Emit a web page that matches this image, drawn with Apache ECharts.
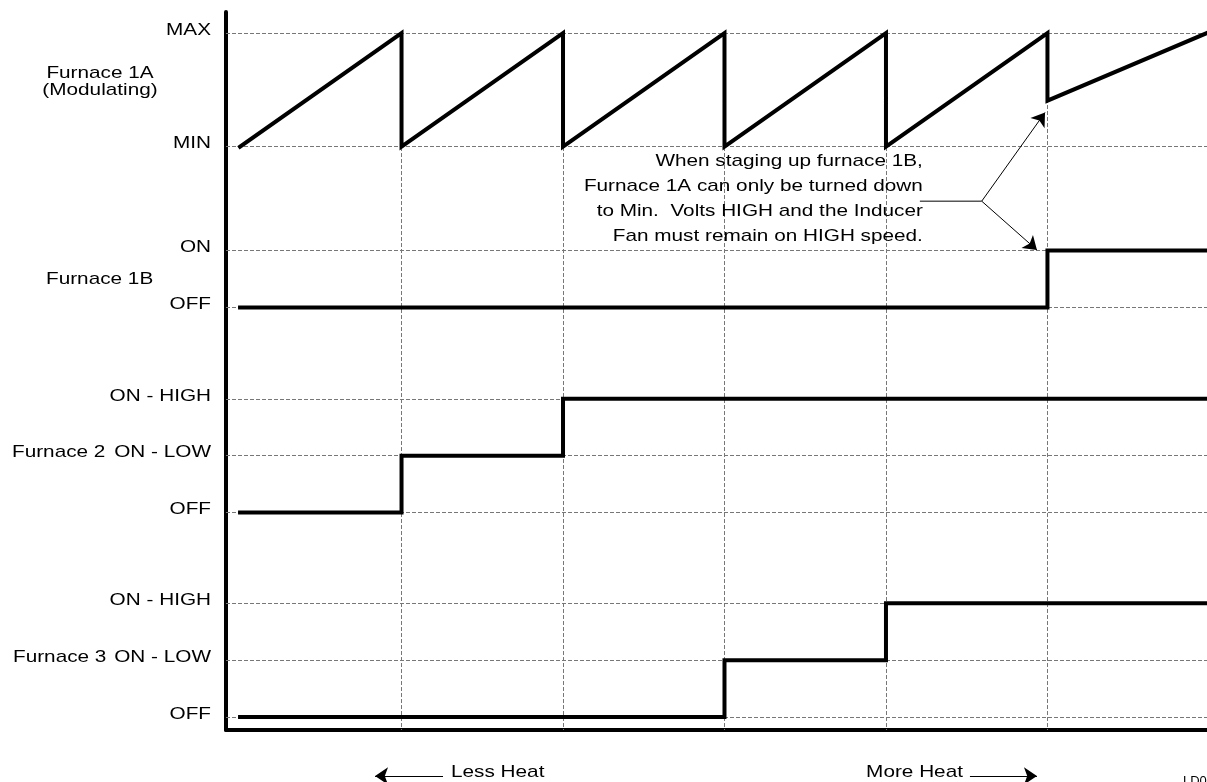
<!DOCTYPE html>
<html>
<head>
<meta charset="utf-8">
<style>
  html, body { margin: 0; padding: 0; background: #fff; }
  #main { width: 1207px; height: 782px; }
</style>
<script src="https://cdn.jsdelivr.net/npm/echarts@6/dist/echarts.min.js"></script>
</head>
<body>
<div id="main"></div>
<script>
// 各炉子的状态电平 (y 轴数值)
var levelValues = [12.27, 10.27, 8.44, 7.44, 5.83, 4.83, 3.83, 2.23, 1.23, 0.23];
var levelNames = ['MAX', 'MIN', 'ON', 'OFF', 'ON - HIGH', 'ON - LOW', 'OFF', 'ON - HIGH', 'ON - LOW', 'OFF'];
var furnaceNames = ['Furnace 1A\n(Modulating)', 'Furnace 1B', 'Furnace 2', 'Furnace 3'];
var stageX = [1, 2, 3, 4, 5];

// 时序曲线
var furnace1A = [[0, 10.27], [1, 12.27], [1, 10.27], [2, 12.27], [2, 10.27], [3, 12.27], [3, 10.27],
                 [4, 12.27], [4, 10.27], [5, 12.27], [5, 11.08], [5.988, 12.27]];
var furnace1B = [[0, 7.44], [5, 7.44], [5, 8.44], [5.988, 8.44]];
var furnace2 = [[0, 3.83], [1, 3.83], [1, 4.83], [2, 4.83], [2, 5.83], [5.988, 5.83]];
var furnace3 = [[0, 0.23], [3, 0.23], [3, 1.23], [4, 1.23], [4, 2.23], [5.988, 2.23]];

// 说明文字
var noteText = 'When staging up furnace 1B,\nFurnace 1A can only be turned down\nto Min.  Volts HIGH and the Inducer\nFan must remain on HIGH speed.';
var calloutFrom = [4.21, 9.31];
var calloutBranch = [4.593, 9.31];
var calloutTips = [[4.985, 10.87], [4.935, 8.45]];
var lessHeat = { text: 'Less Heat', from: [1.257, -0.81], to: [0.836, -0.81] };
var moreHeat = { text: 'More Heat', from: [4.52, -0.81], to: [4.935, -0.81] };

var FONT = '17px "Liberation Sans", Arial, sans-serif';
var SX = 1.22;

var myChart = echarts.init(document.getElementById('main'));

function textEl(x, y, text, align, vAlign) {
    return {
        type: 'text', x: x, y: y, scaleX: SX,
        style: { text: text, fill: '#000', font: FONT, align: align, verticalAlign: vAlign || 'middle', lineHeight: 17 }
    };
}

var stepStyle = { color: '#000', width: 4, join: 'miter', cap: 'square' };

var option = {
    animation: false,
    grid: { left: 226, right: 0, top: 12, bottom: 52 },
    xAxis: {
        type: 'value', min: -0.087, max: 5.988,
        axisLine: { show: true, onZero: false, lineStyle: { color: '#000', width: 4 } },
        axisTick: { show: false }, axisLabel: { show: false }, splitLine: { show: false }
    },
    yAxis: {
        type: 'value', min: 0, max: 12.64,
        axisLine: { show: true, onZero: false, lineStyle: { color: '#000', width: 4 } },
        axisTick: { show: false }, axisLabel: { show: false }, splitLine: { show: false }
    },
    series: [
        {
            type: 'line', data: furnace1A, symbol: 'none', lineStyle: stepStyle, z: 5,
            markLine: {
                silent: true, symbol: 'none', label: { show: false },
                lineStyle: { color: '#777', width: 1, type: [4, 2] },
                data: levelValues.map(function (v) { return { yAxis: v }; }).concat(
                    stageX.map(function (x) { return [{ coord: [x, levelValues[0]] }, { coord: [x, 0] }]; })
                )
            }
        },
        { type: 'line', data: furnace1B, symbol: 'none', lineStyle: stepStyle, z: 5 },
        { type: 'line', data: furnace2, symbol: 'none', lineStyle: stepStyle, z: 5 },
        { type: 'line', data: furnace3, symbol: 'none', lineStyle: stepStyle, z: 5 },
        // 说明的引线
        {
            type: 'line', data: [calloutFrom, calloutBranch], symbol: 'none',
            lineStyle: { color: '#000', width: 1 }, z: 6
        },
        {
            type: 'lines', coordinateSystem: 'cartesian2d', clip: false, z: 6,
            symbol: ['none', 'arrow'], symbolSize: 13,
            lineStyle: { color: '#000', width: 1, opacity: 1 },
            data: calloutTips.map(function (t) { return { coords: [calloutBranch, t] }; })
                .concat([{ coords: [lessHeat.from, lessHeat.to] }, { coords: [moreHeat.from, moreHeat.to] }])
        },
        // 文字标签
        {
            type: 'custom', clip: false, z: 7, silent: true,
            data: [0],
            renderItem: function (params, api) {
                var children = [];
                levelNames.forEach(function (name, i) {
                    var p = api.coord([0, levelValues[i]]);
                    children.push(textEl(211, p[1] - 3, name, 'right'));
                });
                // 炉子名称
                var p1a = api.coord([0, (levelValues[0] + levelValues[1]) / 2]);
                children.push(textEl(100, p1a[1] - 8, furnaceNames[0], 'center'));
                var p1b = api.coord([0, (levelValues[2] + levelValues[3]) / 2]);
                children.push(textEl(46, p1b[1], furnaceNames[1], 'left'));
                var p2 = api.coord([0, levelValues[5]]);
                children.push(textEl(12, p2[1] - 3, furnaceNames[2], 'left'));
                var p3 = api.coord([0, levelValues[8]]);
                children.push(textEl(13, p3[1] - 3, furnaceNames[3], 'left'));
                // 说明
                var pn = api.coord(calloutFrom);
                var note = textEl(pn[0] + 3, pn[1] - 2, noteText, 'right');
                note.style.lineHeight = 25;
                children.push(note);
                // 底部箭头文字
                var pl = api.coord(lessHeat.from);
                children.push(textEl(pl[0] + 8, pl[1] - 4, lessHeat.text, 'left'));
                var pm = api.coord(moreHeat.from);
                children.push(textEl(pm[0] - 7, pm[1] - 4, moreHeat.text, 'right'));
                children.push({
                    type: 'text', x: 1183, y: 775,
                    style: { text: 'LD0', fill: '#000', font: '13px "Liberation Sans", Arial, sans-serif', align: 'left', verticalAlign: 'top' }
                });
                return { type: 'group', children: children };
            }
        }
    ]
};
myChart.setOption(option);
</script>
</body>
</html>
